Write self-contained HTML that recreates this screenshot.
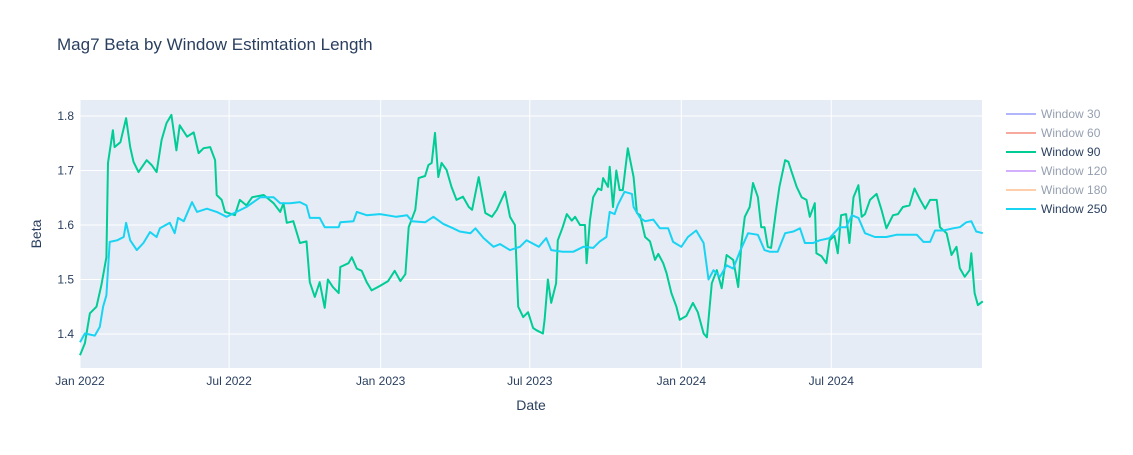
<!DOCTYPE html>
<html><head><meta charset="utf-8"><style>
body{margin:0;background:#fff;font-family:"Liberation Sans",sans-serif}
svg text{font-family:"Liberation Sans",sans-serif}
</style></head><body>
<svg id="chart" width="1133" height="450" xmlns="http://www.w3.org/2000/svg">
<rect x="0" y="0" width="1133" height="450" fill="#fff"/>
<text x="57" y="50" font-size="17" fill="#2a3f5f">Mag7 Beta by Window Estimtation Length</text>
<rect x="80" y="100" width="902" height="268" fill="#e5ecf6"/>
<g id="grid"></g>
<g id="series"></g>
<g id="ticks"></g>
<text x="531" y="410" font-size="14" fill="#2a3f5f" text-anchor="middle">Date</text>
<text x="41" y="234" font-size="14" fill="#2a3f5f" text-anchor="middle" transform="rotate(-90 41 234)">Beta</text>
<g id="legend"></g>
</svg>
<script>
const xTickDays=[0,181,365,546,730,912];
const xTickLabels=["Jan 2022","Jul 2022","Jan 2023","Jul 2023","Jan 2024","Jul 2024"];
const yTicks=[1.4,1.5,1.6,1.7,1.8];
const seriesNames=["Window 30","Window 60","Window 90","Window 120","Window 180","Window 250"];
const seriesVisible=[false,false,true,false,false,true];
const seriesColors=["#636efa","#EF553B","#00cc96","#ab63fa","#FFA15A","#19d3f3"];
const w90Days=[0,6,12,20,26,32,34,40,42,49,56,61,65,71,81,87,93,99,105,111,117,121,130,138,144,150,158,164,166,172,176,188,194,202,209,223,235,243,247,251,259,267,275,279,285,291,297,301,307,314,316,326,330,336,342,348,354,364,374,382,389,395,399,407,411,419,423,427,431,435,439,445,451,457,465,472,476,484,492,500,506,516,522,528,532,538,544,550,554,562,564,568,572,578,580,586,591,597,601,607,613,615,619,623,629,633,635,641,643,647,651,655,659,665,672,676,680,686,692,698,702,708,712,718,724,728,736,744,750,757,761,767,773,779,785,793,799,803,807,813,817,823,827,831,835,839,845,849,856,860,864,870,876,882,886,892,894,900,906,910,916,920,924,930,934,939,945,949,953,959,967,973,979,987,993,999,1007,1013,1020,1026,1032,1040,1044,1052,1058,1064,1068,1074,1080,1082,1086,1090,1096];
const w90Vals=[1.361,1.383,1.438,1.45,1.49,1.541,1.714,1.774,1.743,1.752,1.796,1.743,1.716,1.697,1.719,1.71,1.697,1.756,1.787,1.802,1.737,1.783,1.762,1.77,1.732,1.741,1.743,1.719,1.655,1.646,1.624,1.618,1.646,1.636,1.651,1.655,1.64,1.624,1.64,1.604,1.607,1.567,1.57,1.495,1.468,1.495,1.448,1.5,1.486,1.475,1.523,1.53,1.541,1.52,1.516,1.495,1.48,1.488,1.497,1.516,1.497,1.51,1.596,1.628,1.686,1.69,1.71,1.714,1.769,1.688,1.714,1.701,1.67,1.646,1.652,1.633,1.628,1.688,1.622,1.615,1.628,1.661,1.615,1.6,1.45,1.431,1.44,1.411,1.407,1.401,1.426,1.5,1.457,1.493,1.572,1.596,1.62,1.608,1.615,1.6,1.6,1.53,1.608,1.651,1.667,1.664,1.686,1.67,1.707,1.633,1.7,1.664,1.664,1.741,1.688,1.622,1.618,1.578,1.57,1.536,1.547,1.53,1.512,1.475,1.45,1.426,1.433,1.457,1.44,1.401,1.394,1.493,1.517,1.484,1.545,1.536,1.486,1.567,1.615,1.633,1.677,1.651,1.596,1.596,1.56,1.558,1.628,1.67,1.719,1.716,1.697,1.67,1.651,1.646,1.615,1.64,1.548,1.543,1.53,1.572,1.58,1.548,1.618,1.62,1.567,1.651,1.673,1.615,1.62,1.646,1.657,1.628,1.594,1.618,1.62,1.633,1.636,1.667,1.646,1.63,1.646,1.646,1.596,1.585,1.545,1.56,1.521,1.505,1.517,1.548,1.475,1.453,1.46];
const w250Days=[0,6,18,24,28,32,36,45,53,56,61,69,77,85,93,97,109,115,119,126,136,142,154,166,178,190,202,219,235,243,255,267,275,279,291,297,314,316,332,336,348,364,384,397,403,419,429,441,453,461,474,480,490,502,510,522,534,542,557,566,572,586,599,611,623,631,639,643,649,653,661,670,672,680,686,696,704,714,720,730,738,748,757,763,769,777,785,793,801,811,823,831,837,847,856,866,874,880,890,898,910,922,930,937,945,953,965,979,991,1016,1024,1032,1038,1048,1060,1068,1076,1082,1088,1096];
const w250Vals=[1.385,1.401,1.397,1.413,1.45,1.471,1.569,1.572,1.578,1.604,1.572,1.554,1.567,1.587,1.578,1.594,1.604,1.585,1.613,1.607,1.642,1.624,1.63,1.624,1.615,1.624,1.633,1.651,1.651,1.64,1.64,1.642,1.636,1.613,1.613,1.596,1.596,1.605,1.607,1.624,1.618,1.62,1.615,1.618,1.607,1.605,1.615,1.602,1.594,1.588,1.585,1.594,1.576,1.56,1.565,1.554,1.56,1.572,1.56,1.576,1.554,1.551,1.551,1.56,1.558,1.57,1.578,1.624,1.62,1.637,1.661,1.657,1.633,1.613,1.607,1.61,1.594,1.594,1.569,1.56,1.578,1.59,1.567,1.5,1.517,1.505,1.526,1.52,1.551,1.585,1.582,1.554,1.551,1.551,1.585,1.588,1.594,1.567,1.567,1.572,1.576,1.596,1.596,1.618,1.613,1.585,1.578,1.578,1.582,1.582,1.569,1.569,1.59,1.59,1.594,1.596,1.605,1.607,1.588,1.585];

const NS="http://www.w3.org/2000/svg";
const X0=80,X1=982,Y0=100,Y1=368,DMAX=1095,VMIN=1.3376,VMAX=1.8294;
function xs(d){return X0+(d/DMAX)*(X1-X0);}
function ys(v){return Y1-(v-VMIN)/(VMAX-VMIN)*(Y1-Y0);}
function mk(tag,attrs,parent){const e=document.createElementNS(NS,tag);for(const k in attrs)e.setAttribute(k,attrs[k]);parent.appendChild(e);return e;}
const grid=document.getElementById('grid'),ticks=document.getElementById('ticks'),ser=document.getElementById('series'),leg=document.getElementById('legend');
yTicks.forEach((v,i)=>{
  const l=mk('line',{x1:X0,x2:X1,y1:ys(v),y2:ys(v),stroke:'#fff','stroke-width':1},grid);
  
  
  const t=mk('text',{x:74,y:ys(v)+4,'font-size':12,fill:'#2a3f5f','text-anchor':'end'},ticks);
  t.textContent=v.toFixed(1);
  
  
});
xTickDays.forEach((d,i)=>{
  const l=mk('line',{x1:xs(d),x2:xs(d),y1:Y0,y2:Y1,stroke:'#fff','stroke-width':1},grid);
  
  
  const t=mk('text',{x:xs(d),y:385,'font-size':12,fill:'#2a3f5f','text-anchor':'middle'},ticks);
  t.textContent=xTickLabels[i];
  
  
});
function line(days,vals,color,name){
  const pts=days.map((d,i)=>xs(d).toFixed(1)+','+ys(vals[i]).toFixed(1)).join(' ');
  const p=mk('polyline',{points:pts,fill:'none',stroke:color,'stroke-width':2,'stroke-linejoin':'round'},ser);
  
  
}
line(w90Days,w90Vals,seriesColors[2],'line-window-90');
line(w250Days,w250Vals,seriesColors[5],'line-window-250');
seriesNames.forEach((n,i)=>{
  const y=114+i*19;
  const g=mk('g',{opacity:seriesVisible[i]?1:0.5},leg);
  
  
  mk('line',{x1:1006,x2:1036,y1:y,y2:y,stroke:seriesColors[i],'stroke-width':2},g);
  const t=mk('text',{x:1041,y:y+4,'font-size':12,fill:'#2a3f5f'},g);
  t.textContent=n;
});
</script>
</body></html>
